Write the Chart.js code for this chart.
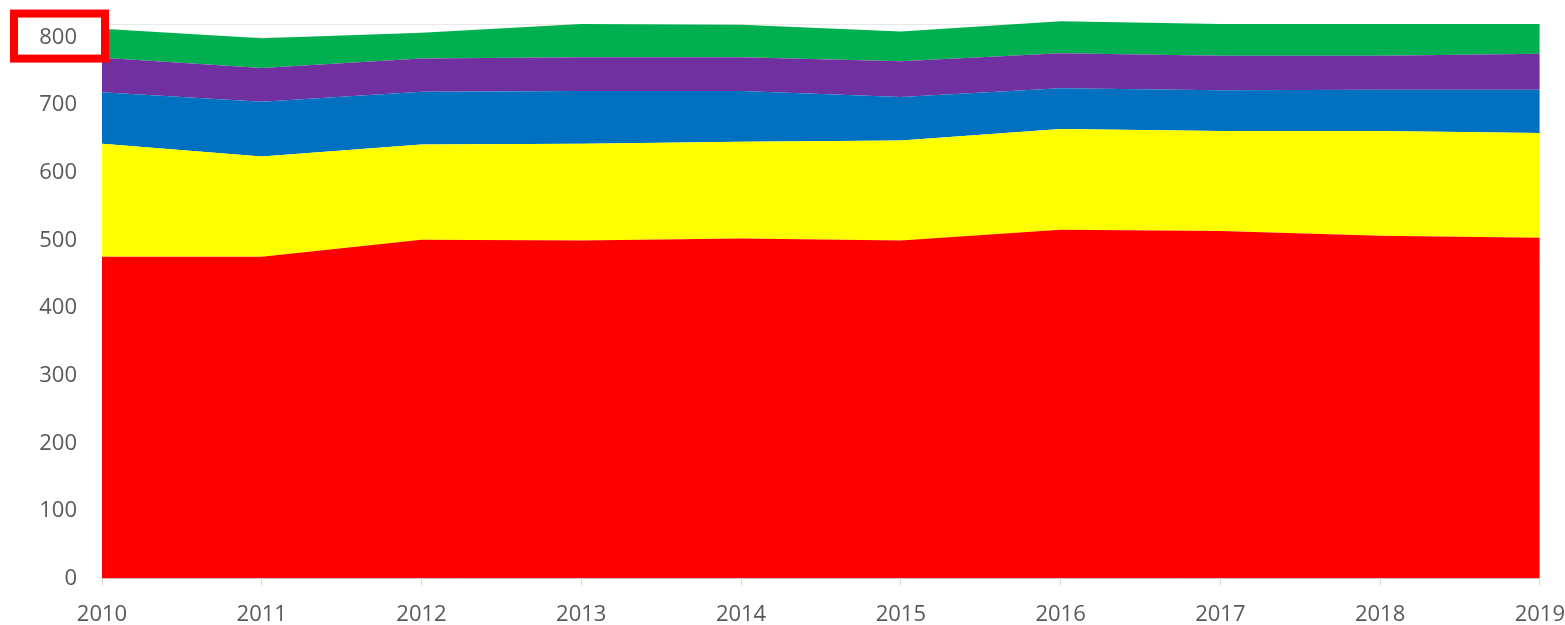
<!DOCTYPE html>
<html>
<head>
<meta charset="utf-8">
<script src="https://cdn.jsdelivr.net/npm/chart.js@4/dist/chart.umd.min.js"></script>
<style>
  body { margin: 0; background: #fff; overflow: hidden; }
  #wrap { width: 1581px; height: 644px; position: relative; }
</style>
</head>
<body>
<div id="wrap"><canvas id="areaChart"></canvas></div>
<script>
// data (each series is its own band, stacked)
const years = ['2010', '2011', '2012', '2013', '2014', '2015', '2016', '2017', '2018', '2019'];
const redVals = [476, 476, 501, 500, 503, 500, 516, 514, 507, 504];
const yellowVals = [167, 148, 141, 143, 143, 148, 149, 148, 155, 155];
const blueVals = [76, 81, 78, 78, 75, 64, 60, 60, 61, 64];
const purpleVals = [51, 50, 49, 50, 50, 53, 52, 51, 50, 53];
const greenVals = [43, 44, 38, 49, 48, 44, 47, 47, 47, 44];
const yTicks = [0, 100, 200, 300, 400, 500, 600, 700, 800];
const yGridTop = 820;
const yMax = 826;
const markedTick = 800;

function band(label, values, color, fill) {
    return {
        label: label,
        data: values,
        backgroundColor: color,
        borderColor: color,
        borderWidth: 0,
        pointRadius: 0,
        fill: fill,
        tension: 0
    };
}

// red box round one tick label
const tickBox = {
    id: 'tickBox',
    afterDraw(chart) {
        const y = chart.scales.y;
        const c = chart.ctx;
        const py = y.getPixelForValue(markedTick);
        c.save();
        c.strokeStyle = '#ff0000';
        c.lineWidth = 8;
        c.strokeRect(chart.chartArea.left - 88, py - 24, 91, 45);
        c.restore();
    }
};

var ctx = document.querySelector('#areaChart');

new Chart(ctx, {
    type: 'line',
    data: {
        labels: years,
        datasets: [
            band('Series 1', redVals, '#ff0000', 'origin'),
            band('Series 2', yellowVals, '#ffff00', '-1'),
            band('Series 3', blueVals, '#0070c0', '-1'),
            band('Series 4', purpleVals, '#7030a0', '-1'),
            band('Series 5', greenVals, '#00b050', '-1')
        ]
    },
    options: {
        responsive: true,
        maintainAspectRatio: false,
        animation: false,
        layout: { padding: { top: 20, right: 0, left: 0, bottom: 0 } },
        plugins: {
            legend: { display: false },
            tooltip: { enabled: false }
        },
        scales: {
            x: {
                offset: false,
                grid: { drawOnChartArea: false, drawTicks: true, tickLength: 7, color: '#d9d9d9' },
                border: { color: '#d9d9d9', width: 1 },
                ticks: {
                    color: '#595959',
                    font: { family: 'Open Sans', size: 22 },
                    padding: 16,
                    maxRotation: 0,
                    autoSkip: false
                }
            },
            y: {
                stacked: true,
                min: 0,
                max: yMax,
                afterBuildTicks(scale) {
                    scale.ticks = yTicks.concat([yGridTop]).map(v => ({ value: v }));
                },
                afterFit(scale) {
                    scale.width = 102;
                    scale.paddingTop = 0;
                },
                grid: { color: '#e8e8e8', drawTicks: false },
                border: { display: false },
                ticks: {
                    color: '#595959',
                    font: { family: 'Open Sans', size: 22 },
                    padding: 25,
                    callback: v => (yTicks.includes(v) ? v : '')
                }
            }
        }
    },
    plugins: [tickBox]
});
</script>
</body>
</html>
